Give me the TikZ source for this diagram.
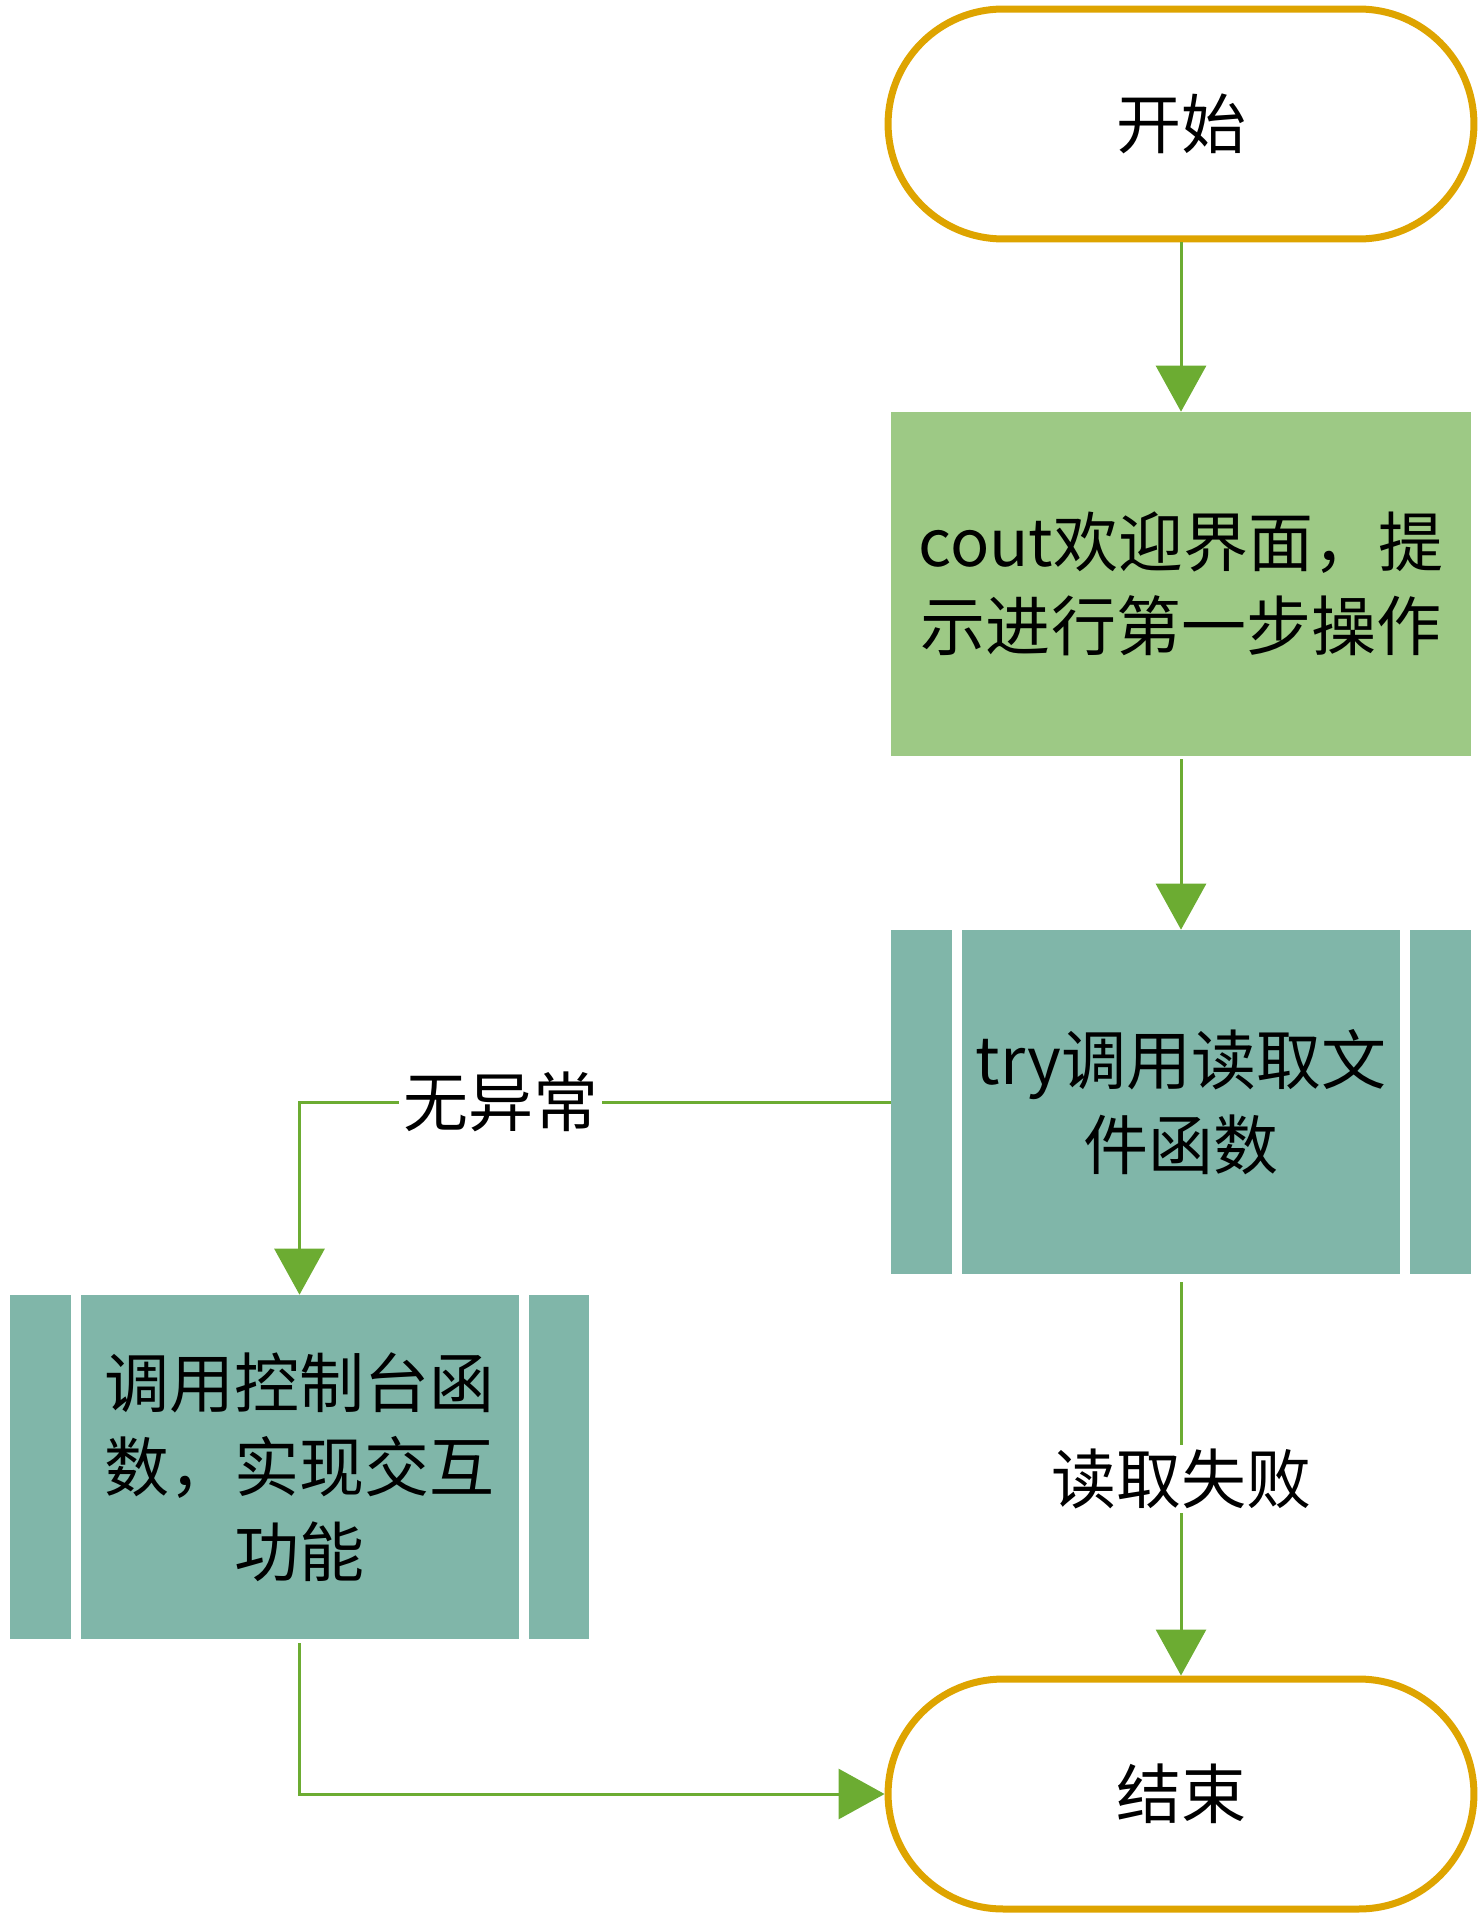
\documentclass[tikz,border=0pt]{standalone}
\usepackage{fontspec}
\setmainfont{Noto Sans CJK SC}
\usetikzlibrary{arrows.meta}
\definecolor{termline}{RGB}{222,164,0}
\definecolor{arrowgreen}{RGB}{108,172,50}
\definecolor{boxgreen}{RGB}{157,201,133}
\definecolor{boxteal}{RGB}{128,182,169}
\tikzset{
  terminal/.style={draw=termline, line width=0.14cm, fill=white, rounded corners=2.3cm,
    minimum width=11.72cm, minimum height=4.6cm, align=center,
    font=\fontsize{37}{48}\selectfont},
  procbox/.style={fill=boxgreen, minimum width=11.6cm, minimum height=6.88cm,
    align=center, inner sep=0pt, font=\fontsize{37}{48}\selectfont},
  subbox/.style={fill=boxteal, minimum width=11.6cm, minimum height=6.88cm,
    align=center, inner sep=0pt, font=\fontsize{37}{48}\selectfont},
  flow/.style={draw=arrowgreen, line width=0.06cm,
    -{Triangle[length=0.92cm,width=1cm]}},
  edgelabel/.style={fill=white, inner sep=2pt, font=\fontsize{37}{48}\selectfont},
  barline/.style={draw=white, line width=0.19cm}
}
\begin{document}
\begin{tikzpicture}[x=0.02cm,y=-0.02cm]
\useasboundingbox (0,0) rectangle (1481,1919);
\node[terminal] (start) at (1181,124) {开始};
\node[procbox] (welcome) at (1181,584) {cout欢迎界面，提\\示进行第一步操作};
\node[subbox] (try) at (1181,1102) {try调用读取文\\件函数};
\node[subbox] (console) at (299.5,1467) {调用控制台函\\数，实现交互\\功能};
\node[terminal] (end) at (1181,1794) {结束};
% vertical bars of predefined-process boxes
\draw[barline] (957,930) -- (957,1274);
\draw[barline] (1405,930) -- (1405,1274);
\draw[barline] (76,1295) -- (76,1639);
\draw[barline] (524,1295) -- (524,1639);
% connectors
\draw[flow] (start.south) -- (welcome.north);
\draw[flow] (welcome.south) ++(0,3) -- (try.north);
\draw[flow] (try.west) -| node[edgelabel, pos=0.33] {无异常} (console.north);
\draw[flow] (try.south) ++(0,8) -- node[edgelabel] {读取失败} (end.north);
\draw[flow] (console.south) ++(0,4) |- (end.west);
\end{tikzpicture}
\end{document}
